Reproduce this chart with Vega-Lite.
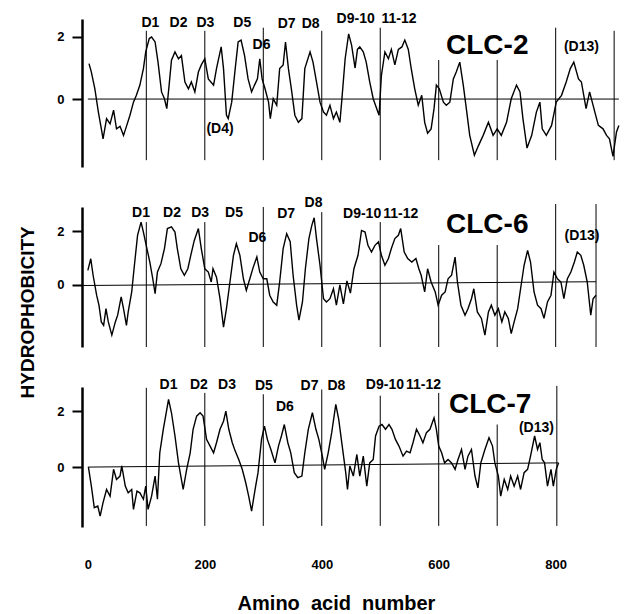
{
"$schema": "https://vega.github.io/schema/vega-lite/v6.json",
"background": "white",
"padding": {"left": 18, "top": 11, "right": 0, "bottom": 0},
"bounds": "flush",
"spacing": 40,
"config": {"font": "Liberation Sans", "view": {"stroke": null}},
"title": {"text": "HYDROPHOBICITY", "orient": "left", "anchor": "middle", "fontSize": 19, "fontWeight": "bold", "font": "Liberation Sans", "color": "black", "offset": 19},
"resolve": {"scale": {"x": "independent", "y": "independent"}},
"datasets": {
"clc2": [{"a":2,"h":1.14},{"a":6,"h":0.87},{"a":12,"h":0.33},{"a":18,"h":-0.42},{"a":24,"h":-1.06},{"a":26,"h":-1.28},{"a":32,"h":-0.63},{"a":38,"h":-0.8},{"a":44,"h":-0.36},{"a":49,"h":-0.96},{"a":55,"h":-0.88},{"a":61,"h":-1.17},{"a":66,"h":-0.88},{"a":72,"h":-0.52},{"a":78,"h":-0.1},{"a":83,"h":0.12},{"a":89,"h":0.45},{"a":95,"h":0.98},{"a":99,"h":1.52},{"a":105,"h":1.95},{"a":109,"h":2.0},{"a":115,"h":1.84},{"a":120,"h":1.19},{"a":126,"h":0.23},{"a":131,"h":0.01},{"a":135,"h":-0.31},{"a":139,"h":0.45},{"a":143,"h":1.25},{"a":149,"h":1.52},{"a":155,"h":1.3},{"a":160,"h":1.4},{"a":166,"h":0.55},{"a":172,"h":0.33},{"a":177,"h":0.55},{"a":183,"h":0.23},{"a":189,"h":0.87},{"a":194,"h":1.1},{"a":200,"h":1.3},{"a":206,"h":0.65},{"a":215,"h":0.45},{"a":220,"h":0.98},{"a":228,"h":1.68},{"a":232,"h":0.98},{"a":237,"h":-0.52},{"a":240,"h":-0.63},{"a":246,"h":-0.1},{"a":252,"h":0.98},{"a":257,"h":1.84},{"a":262,"h":1.9},{"a":268,"h":1.4},{"a":274,"h":0.65},{"a":280,"h":0.23},{"a":285,"h":0.45},{"a":290,"h":0.65},{"a":294,"h":1.3},{"a":298,"h":0.65},{"a":303,"h":0.33},{"a":309,"h":-0.1},{"a":312,"h":-0.63},{"a":317,"h":0.01},{"a":323,"h":-0.2},{"a":328,"h":0.98},{"a":334,"h":1.1},{"a":338,"h":1.84},{"a":343,"h":0.98},{"a":348,"h":0.33},{"a":354,"h":-0.52},{"a":360,"h":-0.75},{"a":366,"h":-0.63},{"a":371,"h":0.98},{"a":380,"h":1.52},{"a":385,"h":1.19},{"a":391,"h":0.55},{"a":397,"h":-0.1},{"a":403,"h":-0.42},{"a":408,"h":-0.52},{"a":414,"h":-0.2},{"a":420,"h":-0.63},{"a":425,"h":-0.42},{"a":431,"h":-0.75},{"a":434,"h":-0.1},{"a":440,"h":1.3},{"a":446,"h":2.1},{"a":451,"h":1.74},{"a":457,"h":1.0},{"a":461,"h":1.6},{"a":465,"h":1.68},{"a":471,"h":1.52},{"a":476,"h":1.19},{"a":482,"h":0.55},{"a":488,"h":0.01},{"a":494,"h":-0.31},{"a":498,"h":-0.52},{"a":502,"h":0.76},{"a":508,"h":1.52},{"a":514,"h":1.3},{"a":519,"h":1.6},{"a":525,"h":1.1},{"a":531,"h":1.6},{"a":537,"h":1.68},{"a":542,"h":1.9},{"a":548,"h":1.6},{"a":553,"h":0.98},{"a":559,"h":0.33},{"a":565,"h":-0.2},{"a":571,"h":0.12},{"a":576,"h":-0.75},{"a":581,"h":-1.1},{"a":587,"h":-0.96},{"a":592,"h":-0.31},{"a":596,"h":0.45},{"a":601,"h":0.33},{"a":608,"h":-0.1},{"a":613,"h":-0.2},{"a":619,"h":-0.1},{"a":625,"h":0.65},{"a":630,"h":0.87},{"a":636,"h":1.19},{"a":642,"h":0.45},{"a":648,"h":-0.42},{"a":653,"h":-1.17},{"a":661,"h":-1.81},{"a":668,"h":-1.5},{"a":676,"h":-1.17},{"a":685,"h":-0.75},{"a":693,"h":-1.17},{"a":700,"h":-0.96},{"a":707,"h":-1.17},{"a":716,"h":-0.75},{"a":724,"h":0.01},{"a":733,"h":0.45},{"a":739,"h":0.23},{"a":744,"h":-0.63},{"a":751,"h":-1.58},{"a":759,"h":-1.17},{"a":767,"h":-0.42},{"a":773,"h":-0.1},{"a":777,"h":-0.96},{"a":784,"h":-1.17},{"a":793,"h":-0.85},{"a":801,"h":-0.1},{"a":810,"h":0.12},{"a":818,"h":0.55},{"a":825,"h":0.98},{"a":831,"h":1.19},{"a":839,"h":0.65},{"a":844,"h":0.55},{"a":852,"h":-0.31},{"a":858,"h":0.23},{"a":867,"h":-0.42},{"a":873,"h":-0.85},{"a":881,"h":-0.96},{"a":887,"h":-1.17},{"a":892,"h":-1.28},{"a":898,"h":-1.85},{"a":904,"h":-1.06},{"a":908,"h":-0.85}],
"clc6": [{"a":0,"h":0.54},{"a":5,"h":0.97},{"a":9,"h":0.36},{"a":15,"h":-0.38},{"a":19,"h":-0.75},{"a":23,"h":-1.37},{"a":27,"h":-1.5},{"a":31,"h":-0.88},{"a":35,"h":-1.37},{"a":41,"h":-1.86},{"a":47,"h":-1.37},{"a":51,"h":-1.12},{"a":57,"h":-0.44},{"a":61,"h":-0.88},{"a":66,"h":-1.5},{"a":69,"h":-1.0},{"a":75,"h":-0.26},{"a":79,"h":0.6},{"a":85,"h":1.84},{"a":91,"h":2.33},{"a":95,"h":1.96},{"a":101,"h":1.35},{"a":106,"h":0.85},{"a":111,"h":0.23},{"a":115,"h":-0.32},{"a":119,"h":0.48},{"a":125,"h":0.79},{"a":131,"h":1.35},{"a":136,"h":2.09},{"a":143,"h":2.15},{"a":149,"h":1.96},{"a":153,"h":1.35},{"a":159,"h":0.6},{"a":165,"h":0.36},{"a":171,"h":0.6},{"a":176,"h":1.1},{"a":182,"h":1.65},{"a":189,"h":2.09},{"a":194,"h":1.35},{"a":200,"h":0.6},{"a":206,"h":0.48},{"a":211,"h":0.11},{"a":214,"h":0.6},{"a":220,"h":0.29},{"a":226,"h":-0.51},{"a":232,"h":-1.56},{"a":237,"h":-0.88},{"a":243,"h":0.11},{"a":249,"h":1.1},{"a":254,"h":1.53},{"a":260,"h":1.1},{"a":266,"h":0.23},{"a":271,"h":-0.2},{"a":277,"h":0.23},{"a":283,"h":0.67},{"a":289,"h":1.04},{"a":294,"h":0.48},{"a":300,"h":0.23},{"a":306,"h":0.23},{"a":311,"h":-0.38},{"a":317,"h":-0.63},{"a":323,"h":-0.75},{"a":328,"h":0.11},{"a":334,"h":1.35},{"a":340,"h":1.9},{"a":346,"h":1.6},{"a":351,"h":0.36},{"a":357,"h":-0.75},{"a":361,"h":-1.3},{"a":367,"h":-0.63},{"a":372,"h":0.6},{"a":378,"h":1.72},{"a":383,"h":2.21},{"a":387,"h":2.49},{"a":391,"h":1.72},{"a":397,"h":0.73},{"a":403,"h":-0.51},{"a":408,"h":-0.63},{"a":414,"h":-0.51},{"a":420,"h":-0.14},{"a":425,"h":-0.75},{"a":431,"h":0.0},{"a":437,"h":-0.7},{"a":443,"h":0.15},{"a":449,"h":-0.3},{"a":455,"h":0.6},{"a":462,"h":1.1},{"a":468,"h":2.02},{"a":474,"h":1.96},{"a":479,"h":1.47},{"a":485,"h":1.22},{"a":491,"h":1.47},{"a":497,"h":1.6},{"a":502,"h":1.1},{"a":508,"h":0.73},{"a":514,"h":0.98},{"a":519,"h":1.35},{"a":525,"h":1.72},{"a":531,"h":1.84},{"a":535,"h":2.09},{"a":541,"h":1.22},{"a":547,"h":0.98},{"a":554,"h":0.85},{"a":561,"h":0.98},{"a":566,"h":0.6},{"a":570,"h":0.36},{"a":576,"h":-0.26},{"a":581,"h":0.6},{"a":587,"h":0.11},{"a":594,"h":-0.26},{"a":599,"h":-0.75},{"a":605,"h":-0.38},{"a":611,"h":-0.26},{"a":616,"h":0.23},{"a":622,"h":0.36},{"a":628,"h":1.03},{"a":632,"h":0.11},{"a":638,"h":-0.75},{"a":645,"h":-1.12},{"a":650,"h":-0.88},{"a":656,"h":-0.51},{"a":660,"h":-0.14},{"a":666,"h":-1.0},{"a":673,"h":-1.24},{"a":679,"h":-1.86},{"a":685,"h":-1.0},{"a":690,"h":-0.75},{"a":696,"h":-1.12},{"a":702,"h":-0.88},{"a":708,"h":-1.37},{"a":713,"h":-1.0},{"a":719,"h":-1.24},{"a":724,"h":-1.8},{"a":729,"h":-1.37},{"a":735,"h":-0.88},{"a":740,"h":-0.14},{"a":746,"h":0.73},{"a":752,"h":1.28},{"a":757,"h":0.85},{"a":763,"h":-0.26},{"a":769,"h":-0.75},{"a":775,"h":-0.88},{"a":780,"h":-1.24},{"a":786,"h":-0.63},{"a":792,"h":-0.38},{"a":797,"h":0.48},{"a":803,"h":0.23},{"a":809,"h":0.11},{"a":814,"h":-0.51},{"a":820,"h":0.23},{"a":826,"h":0.48},{"a":832,"h":0.85},{"a":837,"h":1.22},{"a":843,"h":1.1},{"a":848,"h":0.73},{"a":854,"h":0.11},{"a":860,"h":-1.12},{"a":864,"h":-0.51},{"a":869,"h":-0.38}],
"clc7": [{"a":1,"h":0},{"a":6,"h":-0.68},{"a":11,"h":-1.45},{"a":17,"h":-1.39},{"a":21,"h":-1.75},{"a":26,"h":-1.27},{"a":32,"h":-0.8},{"a":38,"h":-1.04},{"a":44,"h":-0.08},{"a":49,"h":-0.44},{"a":55,"h":-0.32},{"a":58,"h":0.04},{"a":64,"h":-0.68},{"a":69,"h":-0.92},{"a":75,"h":-0.8},{"a":78,"h":-1.51},{"a":84,"h":-0.86},{"a":89,"h":-0.92},{"a":95,"h":-1.15},{"a":99,"h":-0.68},{"a":103,"h":-1.51},{"a":109,"h":-1.04},{"a":115,"h":-0.32},{"a":119,"h":-1.15},{"a":123,"h":0.51},{"a":129,"h":1.35},{"a":133,"h":1.82},{"a":138,"h":2.42},{"a":143,"h":1.94},{"a":149,"h":1.11},{"a":155,"h":0.15},{"a":159,"h":-0.32},{"a":163,"h":-0.8},{"a":169,"h":-0.08},{"a":175,"h":0.51},{"a":180,"h":1.35},{"a":186,"h":1.82},{"a":192,"h":1.94},{"a":197,"h":1.82},{"a":203,"h":0.99},{"a":209,"h":0.75},{"a":215,"h":0.51},{"a":220,"h":0.87},{"a":226,"h":1.35},{"a":232,"h":1.64},{"a":236,"h":2.0},{"a":241,"h":1.35},{"a":247,"h":0.87},{"a":252,"h":0.57},{"a":258,"h":0.27},{"a":264,"h":-0.08},{"a":270,"h":-0.56},{"a":275,"h":-1.04},{"a":280,"h":-1.57},{"a":286,"h":-0.8},{"a":291,"h":-0.2},{"a":297,"h":0.99},{"a":302,"h":1.46},{"a":307,"h":0.99},{"a":313,"h":0.63},{"a":320,"h":0.15},{"a":326,"h":0.75},{"a":331,"h":1.11},{"a":336,"h":1.52},{"a":342,"h":0.87},{"a":347,"h":0.51},{"a":353,"h":-0.2},{"a":359,"h":-0.38},{"a":366,"h":-0.32},{"a":371,"h":0.51},{"a":377,"h":1.35},{"a":384,"h":1.94},{"a":390,"h":1.35},{"a":395,"h":0.99},{"a":401,"h":0.39},{"a":405,"h":-0.08},{"a":411,"h":0.51},{"a":417,"h":1.23},{"a":424,"h":2.24},{"a":429,"h":1.7},{"a":435,"h":0.75},{"a":441,"h":-0.2},{"a":444,"h":-0.8},{"a":448,"h":0.04},{"a":454,"h":-0.32},{"a":460,"h":0.45},{"a":465,"h":-0.32},{"a":471,"h":0.39},{"a":477,"h":-0.68},{"a":482,"h":0.15},{"a":488,"h":0.27},{"a":492,"h":1.11},{"a":498,"h":1.46},{"a":503,"h":1.52},{"a":509,"h":1.35},{"a":515,"h":1.52},{"a":520,"h":1.35},{"a":526,"h":0.99},{"a":532,"h":0.75},{"a":539,"h":0.39},{"a":545,"h":0.57},{"a":551,"h":0.51},{"a":556,"h":0.87},{"a":562,"h":1.35},{"a":568,"h":1.11},{"a":573,"h":0.87},{"a":579,"h":1.23},{"a":585,"h":1.35},{"a":592,"h":1.76},{"a":596,"h":1.35},{"a":600,"h":0.75},{"a":605,"h":0.51},{"a":610,"h":0.15},{"a":616,"h":0.27},{"a":622,"h":0.15},{"a":628,"h":-0.08},{"a":633,"h":0.27},{"a":639,"h":0.63},{"a":645,"h":-0.08},{"a":650,"h":0.39},{"a":656,"h":0.63},{"a":662,"h":-0.32},{"a":667,"h":-0.74},{"a":672,"h":0.15},{"a":679,"h":0.63},{"a":686,"h":1.05},{"a":692,"h":0.75},{"a":696,"h":0.15},{"a":702,"h":-0.32},{"a":706,"h":-1.04},{"a":712,"h":-0.44},{"a":718,"h":-0.8},{"a":723,"h":-0.32},{"a":729,"h":-0.68},{"a":735,"h":-0.32},{"a":740,"h":-0.8},{"a":746,"h":-0.2},{"a":752,"h":-0.08},{"a":757,"h":0.39},{"a":764,"h":1.11},{"a":769,"h":0.63},{"a":773,"h":0.87},{"a":777,"h":0.27},{"a":781,"h":0.15},{"a":786,"h":-0.68},{"a":792,"h":-0.08},{"a":796,"h":-0.68},{"a":801,"h":-0.08},{"a":805,"h":0.15}],
"base2": [{"a":0,"h":0},{"a":908,"h":0}],
"base6": [{"a":-8,"h":-0.02},{"a":869,"h":0.12}],
"base7": [{"a":0,"h":0},{"a":805,"h":0.15}],
"rules2": [{"a":100,"t":2.2},{"a":200,"t":2.2},{"a":300,"t":2.3},{"a":400,"t":2.2},{"a":500,"t":2.3},{"a":600,"t":1.26},{"a":700,"t":1.26},{"a":800,"t":2.3},{"a":900,"t":2.2}],
"rules6": [{"a":100,"t":2.33},{"a":200,"t":2.33},{"a":300,"t":2.89},{"a":400,"t":2.7},{"a":500,"t":2.33},{"a":600,"t":1.48},{"a":700,"t":1.48},{"a":800,"t":3.0},{"a":869,"t":3.0}],
"rules7": [{"a":100,"t":2.83},{"a":200,"t":2.65},{"a":300,"t":2.6},{"a":400,"t":2.77},{"a":500,"t":2.55},{"a":600,"t":2.65},{"a":700,"t":1.52},{"a":802,"t":2.9}],
"lab2": [{"a":107,"h":2.46,"t":"D1"},{"a":155,"h":2.46,"t":"D2"},{"a":201,"h":2.46,"t":"D3"},{"a":264,"h":2.46,"t":"D5"},{"a":297,"h":1.73,"t":"D6"},{"a":340,"h":2.42,"t":"D7"},{"a":381,"h":2.42,"t":"D8"},{"a":458,"h":2.59,"t":"D9-10"},{"a":532,"h":2.59,"t":"11-12"},{"a":844,"h":1.68,"t":"(D13)"},{"a":226,"h":-0.98,"t":"(D4)"}],
"lab6": [{"a":91,"h":2.68,"t":"D1"},{"a":144,"h":2.68,"t":"D2"},{"a":192,"h":2.68,"t":"D3"},{"a":250,"h":2.65,"t":"D5"},{"a":290,"h":1.74,"t":"D6"},{"a":339,"h":2.63,"t":"D7"},{"a":386,"h":3.05,"t":"D8"},{"a":469,"h":2.64,"t":"D9-10"},{"a":535,"h":2.64,"t":"11-12"},{"a":845,"h":1.81,"t":"(D13)"}],
"lab7": [{"a":138,"h":2.94,"t":"D1"},{"a":190,"h":2.94,"t":"D2"},{"a":238,"h":2.94,"t":"D3"},{"a":301,"h":2.89,"t":"D5"},{"a":337,"h":2.13,"t":"D6"},{"a":379,"h":2.89,"t":"D7"},{"a":425,"h":2.89,"t":"D8"},{"a":508,"h":2.94,"t":"D9-10"},{"a":574,"h":2.94,"t":"11-12"},{"a":767,"h":1.39,"t":"(D13)"}],
"big2": [{"a":683,"h":1.71,"t":"CLC-2"}],
"big6": [{"a":683,"h":2.24,"t":"CLC-6"}],
"big7": [{"a":688,"h":2.2,"t":"CLC-7"}]
},
"vconcat": [
{
"width": 538, "height": 148,
"encoding": {
"x": {"field": "a", "type": "quantitative", "scale": {"domain": [-10, 910], "nice": false, "zero": false}, "axis": null},
"y": {"field": "h", "type": "quantitative", "scale": {"domain": [-2.19, 2.58], "nice": false, "zero": false}, "axis": {"values": [0, 2], "title": null, "grid": false, "domainColor": "black", "domainWidth": 2.5, "tickColor": "black", "tickWidth": 2, "tickSize": 10, "labelFontSize": 13, "labelFontWeight": "bold", "labelColor": "black", "labelPadding": 8, "labelFont": "Liberation Sans"}}
},
"layer": [
{"data": {"name": "rules2"}, "mark": {"type": "rule", "color": "black", "strokeWidth": 1}, "encoding": {"y": {"field": "t", "type": "quantitative"}, "y2": {"datum": -1.97}}},
{"data": {"name": "base2"}, "mark": {"type": "line", "color": "black", "strokeWidth": 1}},
{"data": {"name": "clc2"}, "mark": {"type": "line", "color": "black", "strokeWidth": 1.4}},
{"data": {"name": "lab2"}, "mark": {"type": "text", "font": "Liberation Sans", "fontSize": 14, "fontWeight": "bold", "color": "black", "baseline": "middle", "align": "center"}, "encoding": {"text": {"field": "t"}}},
{"data": {"name": "big2"}, "mark": {"type": "text", "font": "Liberation Sans", "fontSize": 28, "fontWeight": "bold", "color": "black", "baseline": "middle", "align": "center"}, "encoding": {"text": {"field": "t"}}}
]
},
{
"width": 538, "height": 140,
"encoding": {
"x": {"field": "a", "type": "quantitative", "scale": {"domain": [-10, 910], "nice": false, "zero": false}, "axis": null},
"y": {"field": "h", "type": "quantitative", "scale": {"domain": [-2.3, 2.89], "nice": false, "zero": false}, "axis": {"values": [0, 2], "title": null, "grid": false, "domainColor": "black", "domainWidth": 2.5, "tickColor": "black", "tickWidth": 2, "tickSize": 10, "labelFontSize": 13, "labelFontWeight": "bold", "labelColor": "black", "labelPadding": 8, "labelFont": "Liberation Sans"}}
},
"layer": [
{"data": {"name": "rules6"}, "mark": {"type": "rule", "color": "black", "strokeWidth": 1}, "encoding": {"y": {"field": "t", "type": "quantitative"}, "y2": {"datum": -2.3}}},
{"data": {"name": "base6"}, "mark": {"type": "line", "color": "black", "strokeWidth": 1}},
{"data": {"name": "clc6"}, "mark": {"type": "line", "color": "black", "strokeWidth": 1.4}},
{"data": {"name": "lab6"}, "mark": {"type": "text", "font": "Liberation Sans", "fontSize": 14, "fontWeight": "bold", "color": "black", "baseline": "middle", "align": "center"}, "encoding": {"text": {"field": "t"}}},
{"data": {"name": "big6"}, "mark": {"type": "text", "font": "Liberation Sans", "fontSize": 28, "fontWeight": "bold", "color": "black", "baseline": "middle", "align": "center"}, "encoding": {"text": {"field": "t"}}}
]
},
{
"width": 538, "height": 140,
"encoding": {
"x": {"field": "a", "type": "quantitative", "scale": {"domain": [-10, 910], "nice": false, "zero": false}, "axis": {"values": [0, 200, 400, 600, 800], "domain": false, "ticks": false, "tickSize": 0, "grid": false, "labelFontSize": 13, "labelFontWeight": "bold", "labelColor": "black", "labelPadding": 31, "labelFont": "Liberation Sans", "title": "Amino\u00a0\u00a0acid\u00a0\u00a0number", "titleFont": "Liberation Sans", "titleFontSize": 20, "titleFontWeight": "bold", "titleColor": "black", "titlePadding": 22, "titleX": 254}},
"y": {"field": "h", "type": "quantitative", "scale": {"domain": [-2.14, 2.86], "nice": false, "zero": false}, "axis": {"values": [0, 2], "title": null, "grid": false, "domainColor": "black", "domainWidth": 2.5, "tickColor": "black", "tickWidth": 2, "tickSize": 10, "labelFontSize": 13, "labelFontWeight": "bold", "labelColor": "black", "labelPadding": 8, "labelFont": "Liberation Sans"}}
},
"layer": [
{"data": {"name": "rules7"}, "mark": {"type": "rule", "color": "black", "strokeWidth": 1}, "encoding": {"y": {"field": "t", "type": "quantitative"}, "y2": {"datum": -2.1}}},
{"data": {"name": "base7"}, "mark": {"type": "line", "color": "black", "strokeWidth": 1}},
{"data": {"name": "clc7"}, "mark": {"type": "line", "color": "black", "strokeWidth": 1.4}},
{"data": {"name": "lab7"}, "mark": {"type": "text", "font": "Liberation Sans", "fontSize": 14, "fontWeight": "bold", "color": "black", "baseline": "middle", "align": "center"}, "encoding": {"text": {"field": "t"}}},
{"data": {"name": "big7"}, "mark": {"type": "text", "font": "Liberation Sans", "fontSize": 28, "fontWeight": "bold", "color": "black", "baseline": "middle", "align": "center"}, "encoding": {"text": {"field": "t"}}}
]
}
]
}
